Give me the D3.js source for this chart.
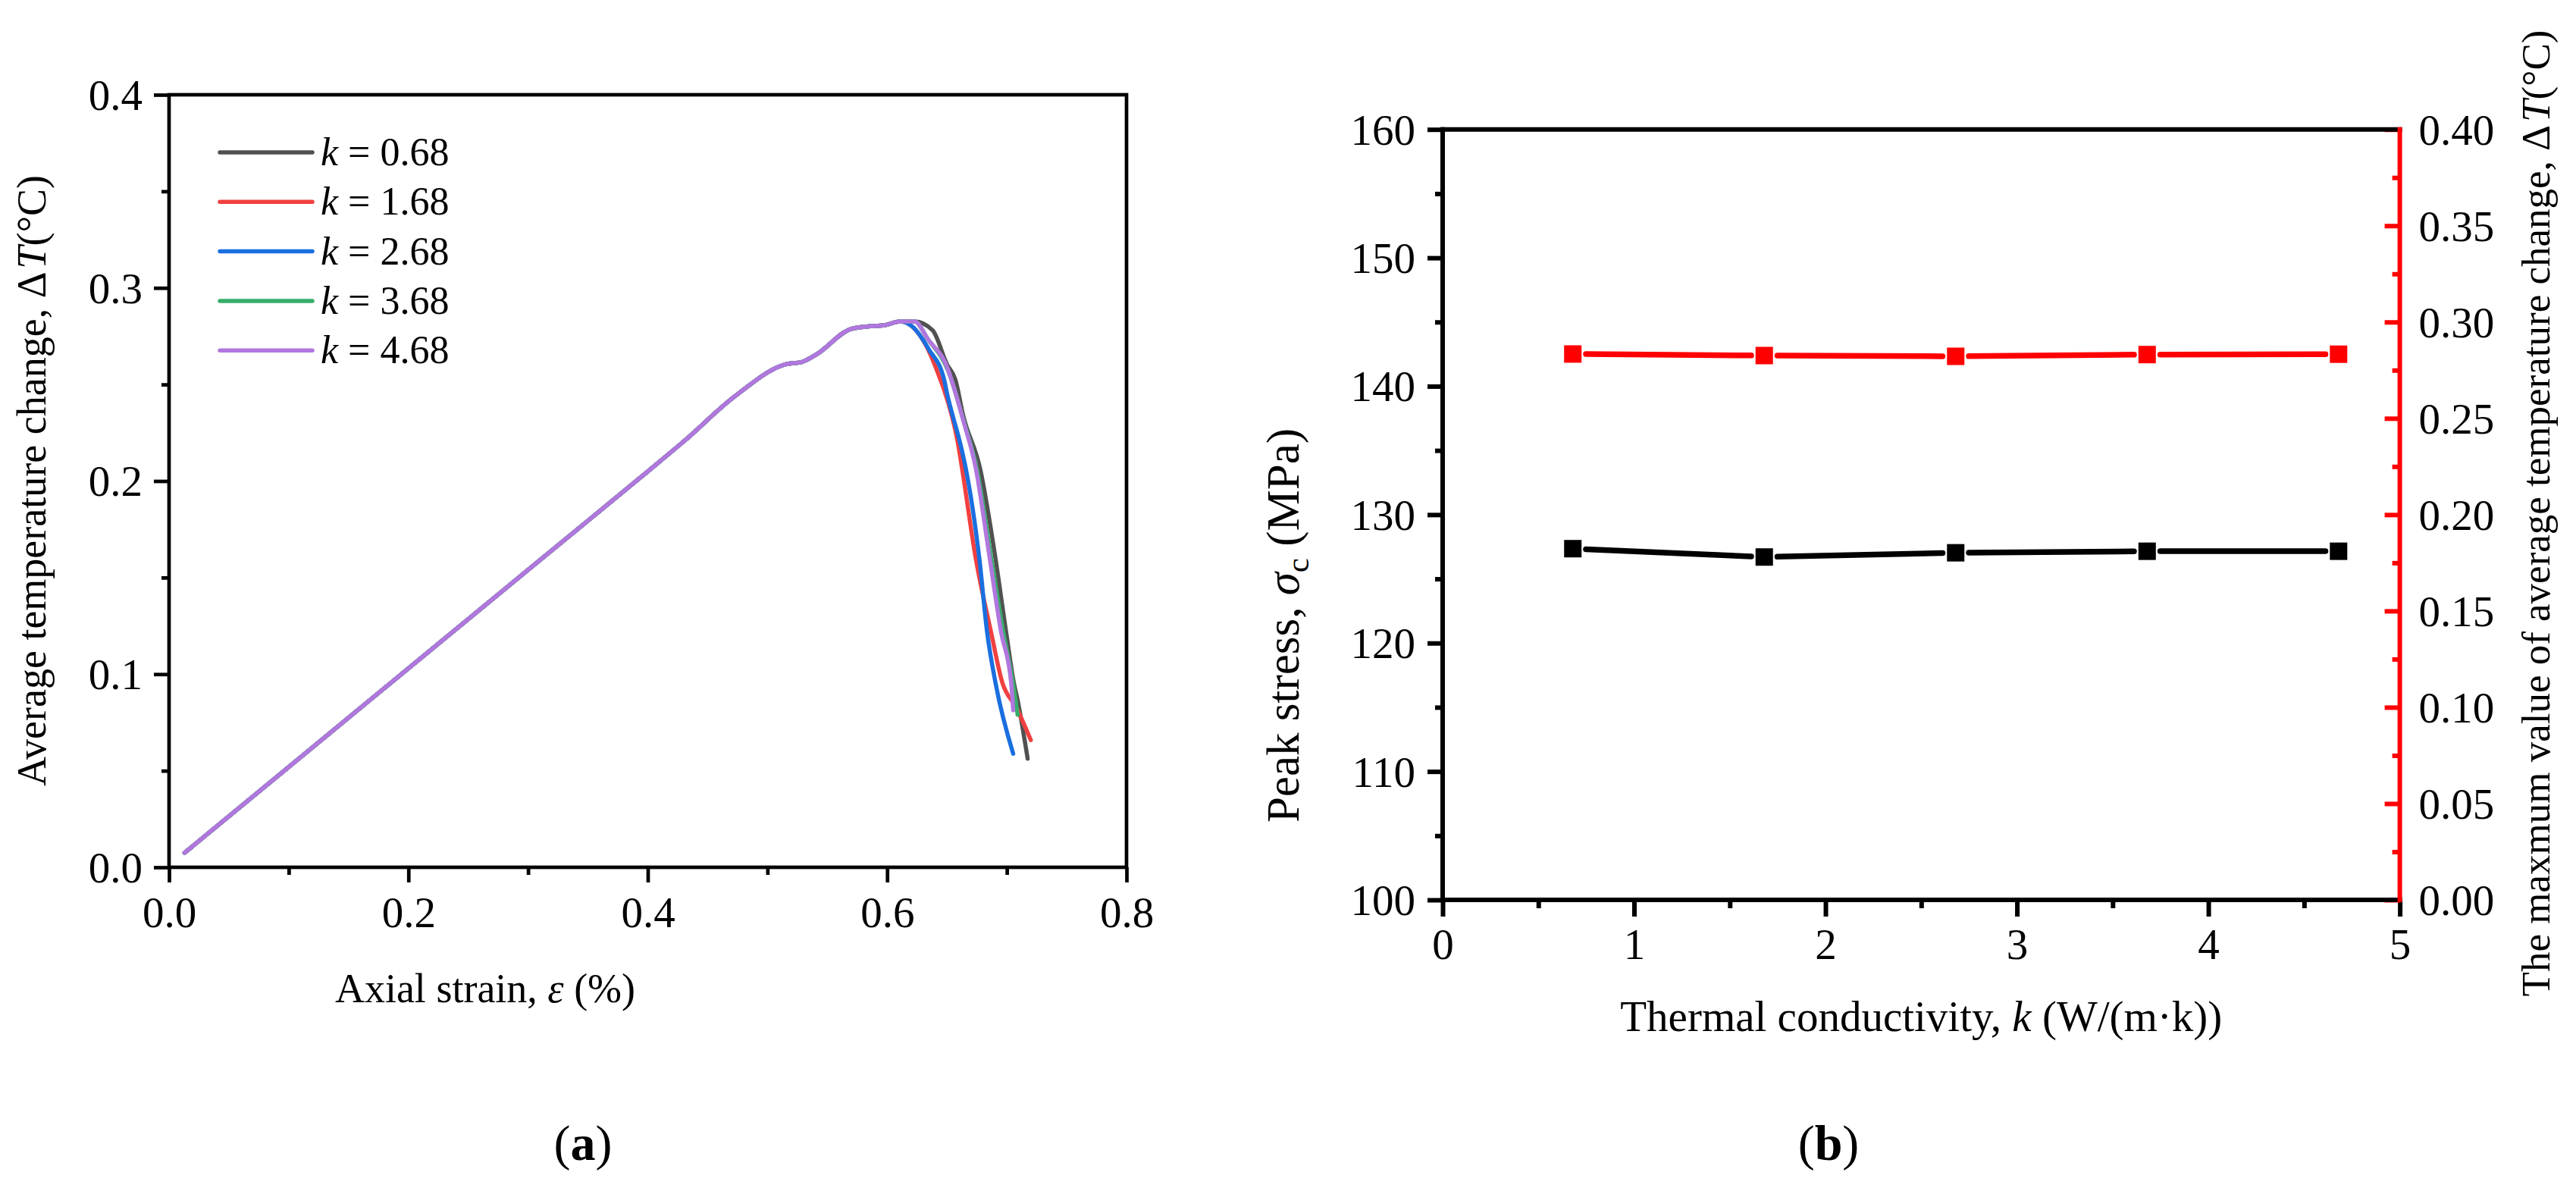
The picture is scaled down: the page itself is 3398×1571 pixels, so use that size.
<!DOCTYPE html>
<html>
<head>
<meta charset="utf-8">
<script src="https://cdn.jsdelivr.net/npm/d3@7"></script>
<style>
  body { margin: 0; background: #fff; }
  svg { display: block; }
</style>
</head>
<body>
<svg id="fig" width="3398" height="1571"></svg>
<script>
// ---- (a) temperature change vs axial strain ----
// shared rising branch (all five curves lie on top of each other here)
const riseBranch = [[0.013, 0.0075], [0.2, 0.103], [0.3, 0.154], [0.4, 0.205], [0.43, 0.2205],
  [0.473, 0.244], [0.515, 0.2604], [0.529, 0.2617], [0.541, 0.2656], [0.5695, 0.2787],
  [0.583, 0.280], [0.598, 0.2807], [0.611, 0.2826]];

// post-peak branches, one per k
const tail068 = [[0.623, 0.2826], [0.638, 0.278], [0.650, 0.2604], [0.657, 0.2525], [0.6635, 0.234],
  [0.678, 0.2055], [0.690, 0.162], [0.6994, 0.1218], [0.7058, 0.0957], [0.709, 0.0865], [0.7174, 0.0562]];
const tail168 = [[0.622, 0.2794], [0.633, 0.2696], [0.6445, 0.2525], [0.6477, 0.247], [0.659, 0.220],
  [0.6625, 0.2068], [0.674, 0.160], [0.6868, 0.1218], [0.6962, 0.0957], [0.708, 0.0826], [0.720, 0.0659]];
const tail268 = [[0.621, 0.280], [0.635, 0.268], [0.6476, 0.2525], [0.6498, 0.246], [0.6624, 0.216],
  [0.6656, 0.2068], [0.677, 0.160], [0.6835, 0.1218], [0.691, 0.094], [0.7053, 0.0588]];
const tail368 = [[0.623, 0.2826], [0.634, 0.2735], [0.651, 0.257], [0.664, 0.231], [0.675, 0.206],
  [0.687, 0.160], [0.697, 0.122], [0.705, 0.096], [0.709, 0.079]];
const tail468 = [[0.623, 0.2826], [0.634, 0.2735], [0.6508, 0.2578], [0.6537, 0.2525], [0.6635, 0.2316],
  [0.674, 0.2068], [0.6857, 0.160], [0.6952, 0.1218], [0.7036, 0.0957], [0.7053, 0.0813]];

const legendK = ["0.68", "1.68", "2.68", "3.68", "4.68"];
const curveColors = ["#515151", "#F14040", "#1A6FDF", "#37AD6B", "#B177DE"];
const curveTails = [tail068, tail168, tail268, tail368, tail468];

const strainTicks = [0, 0.2, 0.4, 0.6, 0.8];
const strainMinor = [0.1, 0.3, 0.5, 0.7];
const dtTicks = [0, 0.1, 0.2, 0.3, 0.4];
const dtMinor = [0.05, 0.15, 0.25, 0.35];

// ---- (b) peak stress & max temperature change vs k ----
const kValues = [0.68, 1.68, 2.68, 3.68, 4.68];
const peakStress = [127.35, 126.7, 127.03, 127.15, 127.15];
const maxDT = [0.2834, 0.2826, 0.2822, 0.2831, 0.2833];

const kTicks = [0, 1, 2, 3, 4, 5];
const kMinor = [0.5, 1.5, 2.5, 3.5, 4.5];
const stressTicks = [100, 110, 120, 130, 140, 150, 160];
const stressMinor = [105, 115, 125, 135, 145, 155];
const dt2Ticks = [0, 0.05, 0.10, 0.15, 0.20, 0.25, 0.30, 0.35, 0.40];
const dt2Minor = [0.025, 0.075, 0.125, 0.175, 0.225, 0.275, 0.325, 0.375];

const FONT = '"Liberation Serif", "Times New Roman", serif';
const svg = d3.select("#fig");

function styleAxis(g, lw, color, fs) {
  g.attr("font-family", null).attr("font-size", null);
  g.select(".domain").remove();
  g.selectAll(".tick line").attr("stroke", color).attr("stroke-width", lw);
  g.selectAll(".tick text").attr("fill", "#000").attr("font-family", FONT).attr("font-size", fs);
}

// ================= panel (a) =================
const xA = d3.scaleLinear().domain([0, 0.8]).range([223, 1486]);
const yA = d3.scaleLinear().domain([0, 0.4]).range([1144, 125]);
const lwA = 4.7;

const gA = svg.append("g");

const line = d3.line()
  .x(d => xA(d[0]))
  .y(d => yA(d[1]))
  .curve(d3.curveMonotoneX);

curveTails.forEach((tail, i) => {
  const startX = tail[0][0];
  const pts = riseBranch.filter(p => p[0] < startX).concat(tail);
  gA.append("path")
    .datum(pts)
    .attr("fill", "none")
    .attr("stroke", curveColors[i])
    .attr("stroke-width", 5.5)
    .attr("stroke-linejoin", "round")
    .attr("stroke-linecap", "round")
    .attr("d", line);
});

// axes
const axA_x = gA.append("g").attr("transform", `translate(0,${yA(0)})`)
  .call(d3.axisBottom(xA).tickValues(strainTicks).tickSize(20).tickSizeOuter(0).tickFormat(d3.format(".1f")));
styleAxis(axA_x, lwA, "#000", 57);
axA_x.selectAll(".tick text").attr("y", 79).attr("dy", null);
const axA_xm = gA.append("g").attr("transform", `translate(0,${yA(0)})`)
  .call(d3.axisBottom(xA).tickValues(strainMinor).tickSize(10).tickSizeOuter(0).tickFormat(""));
styleAxis(axA_xm, lwA, "#000", 57);

const axA_y = gA.append("g").attr("transform", `translate(${xA(0)},0)`)
  .call(d3.axisLeft(yA).tickValues(dtTicks).tickSize(20).tickPadding(15).tickSizeOuter(0).tickFormat(d3.format(".1f")));
styleAxis(axA_y, lwA, "#000", 57);
axA_y.selectAll(".tick text").attr("dy", "0.34em");
const axA_ym = gA.append("g").attr("transform", `translate(${xA(0)},0)`)
  .call(d3.axisLeft(yA).tickValues(dtMinor).tickSize(10).tickSizeOuter(0).tickFormat(""));
styleAxis(axA_ym, lwA, "#000", 57);

gA.append("rect")
  .attr("x", xA(0)).attr("y", yA(0.4))
  .attr("width", xA(0.8) - xA(0)).attr("height", yA(0) - yA(0.4))
  .attr("fill", "none").attr("stroke", "#000").attr("stroke-width", lwA);

// legend
legendK.forEach((k, i) => {
  const ly = 201 + i * 65.3;
  gA.append("line")
    .attr("x1", 290).attr("x2", 412).attr("y1", ly).attr("y2", ly)
    .attr("stroke", curveColors[i]).attr("stroke-width", 5.5).attr("stroke-linecap", "round");
  const t = gA.append("text").attr("x", 423).attr("y", ly + 17)
    .attr("font-family", FONT).attr("font-size", 52);
  t.append("tspan").attr("font-style", "italic").text("k");
  t.append("tspan").text(" = " + k);
});

// axis titles
const ylA = gA.append("text")
  .attr("transform", "translate(60,634) rotate(-90)")
  .attr("text-anchor", "middle").attr("font-family", FONT).attr("font-size", 54);
ylA.append("tspan").text("Average temperature change, Δ");
ylA.append("tspan").attr("font-style", "italic").attr("dx", 4).text("T");
ylA.append("tspan").text("(°C)");

const xlA = gA.append("text")
  .attr("x", 640).attr("y", 1322)
  .attr("text-anchor", "middle").attr("font-family", FONT).attr("font-size", 54);
xlA.append("tspan").text("Axial strain, ");
xlA.append("tspan").attr("font-style", "italic").text("ε");
xlA.append("tspan").text(" (%)");

const capA = gA.append("text").attr("x", 769).attr("y", 1530)
  .attr("text-anchor", "middle").attr("font-family", FONT).attr("font-size", 66);
capA.append("tspan").text("(");
capA.append("tspan").attr("font-weight", "bold").text("a");
capA.append("tspan").text(")");

// ================= panel (b) =================
const xB = d3.scaleLinear().domain([0, 5]).range([1903, 3165.6]);
const yB = d3.scaleLinear().domain([100, 160]).range([1187, 170.7]);
const yB2 = d3.scaleLinear().domain([0, 0.4]).range([1187, 170.7]);
const lwB = 6;
const RED = "#ff0000";

const gB = svg.append("g");

const axB_x = gB.append("g").attr("transform", `translate(0,${yB(100)})`)
  .call(d3.axisBottom(xB).tickValues(kTicks).tickSize(22).tickSizeOuter(0).tickFormat(d3.format("d")));
styleAxis(axB_x, lwB, "#000", 57);
axB_x.selectAll(".tick text").attr("y", 78).attr("dy", null);
const axB_xm = gB.append("g").attr("transform", `translate(0,${yB(100)})`)
  .call(d3.axisBottom(xB).tickValues(kMinor).tickSize(11).tickSizeOuter(0).tickFormat(""));
styleAxis(axB_xm, lwB, "#000", 57);

const axB_y = gB.append("g").attr("transform", `translate(${xB(0)},0)`)
  .call(d3.axisLeft(yB).tickValues(stressTicks).tickSize(20).tickPadding(16).tickSizeOuter(0).tickFormat(d3.format("d")));
styleAxis(axB_y, lwB, "#000", 57);
axB_y.selectAll(".tick text").attr("dy", "0.34em");
const axB_ym = gB.append("g").attr("transform", `translate(${xB(0)},0)`)
  .call(d3.axisLeft(yB).tickValues(stressMinor).tickSize(10).tickSizeOuter(0).tickFormat(""));
styleAxis(axB_ym, lwB, "#000", 57);

// right axis: ticks point inward
const axB_r = gB.append("g").attr("transform", `translate(${xB(5)},0)`)
  .call(d3.axisRight(yB2).tickValues(dt2Ticks).tickSize(-20).tickPadding(25).tickSizeOuter(0).tickFormat(d3.format(".2f")));
styleAxis(axB_r, lwB, RED, 57);
axB_r.selectAll(".tick text").attr("dy", "0.34em");
const axB_rm = gB.append("g").attr("transform", `translate(${xB(5)},0)`)
  .call(d3.axisRight(yB2).tickValues(dt2Minor).tickSize(-10).tickSizeOuter(0).tickFormat(""));
styleAxis(axB_rm, lwB, RED, 57);

// frame
gB.append("line").attr("x1", xB(0)).attr("x2", xB(5)).attr("y1", yB(160)).attr("y2", yB(160))
  .attr("stroke", "#000").attr("stroke-width", lwB).attr("stroke-linecap", "square");
gB.append("line").attr("x1", xB(0)).attr("x2", xB(5)).attr("y1", yB(100)).attr("y2", yB(100))
  .attr("stroke", "#000").attr("stroke-width", lwB).attr("stroke-linecap", "square");
gB.append("line").attr("x1", xB(0)).attr("x2", xB(0)).attr("y1", yB(160)).attr("y2", yB(100))
  .attr("stroke", "#000").attr("stroke-width", lwB).attr("stroke-linecap", "square");
gB.append("line").attr("x1", xB(5)).attr("x2", xB(5)).attr("y1", yB(160)).attr("y2", yB(100))
  .attr("stroke", RED).attr("stroke-width", lwB).attr("stroke-linecap", "square");

// connecting segments with a small gap at each marker, then square markers
const MK = 23, SEG_W = 7.5;
function drawSeries(vals, yScale, color) {
  const pts = kValues.map((k, i) => [xB(k), yScale(vals[i])]);
  for (let i = 0; i < pts.length - 1; i++) {
    const [x1, y1] = pts[i], [x2, y2] = pts[i + 1];
    const len = Math.hypot(x2 - x1, y2 - y1);
    const off = MK / 2 + 2 + SEG_W / 2;
    const ux = (x2 - x1) / len, uy = (y2 - y1) / len;
    gB.append("line")
      .attr("x1", x1 + ux * off).attr("y1", y1 + uy * off)
      .attr("x2", x2 - ux * off).attr("y2", y2 - uy * off)
      .attr("stroke", color).attr("stroke-width", SEG_W).attr("stroke-linecap", "round");
  }
  gB.selectAll(null).data(pts).enter().append("rect")
    .attr("x", d => d[0] - MK / 2).attr("y", d => d[1] - MK / 2)
    .attr("width", MK).attr("height", MK).attr("fill", color);
}
drawSeries(peakStress, yB, "#000");
drawSeries(maxDT, yB2, RED);

// titles
const xlB = gB.append("text")
  .attr("x", (xB(0) + xB(5)) / 2).attr("y", 1360)
  .attr("text-anchor", "middle").attr("font-family", FONT).attr("font-size", 57);
xlB.append("tspan").text("Thermal conductivity, ");
xlB.append("tspan").attr("font-style", "italic").text("k");
xlB.append("tspan").text(" (W/(m·k))");

const ylB = gB.append("text")
  .attr("transform", "translate(1713,825) rotate(-90)")
  .attr("text-anchor", "middle").attr("font-family", FONT).attr("font-size", 61);
ylB.append("tspan").text("Peak stress, ");
ylB.append("tspan").attr("font-style", "italic").text("σ");
ylB.append("tspan").attr("font-size", 43).attr("dy", 13).text("c");
ylB.append("tspan").attr("dy", -13).text(" (MPa)");

const yrB = gB.append("text")
  .attr("transform", "translate(3363,677) rotate(-90)")
  .attr("text-anchor", "middle").attr("font-family", FONT).attr("font-size", 53);
yrB.append("tspan").text("The maxmum value of average temperature change, Δ");
yrB.append("tspan").attr("font-style", "italic").attr("dx", 4).text("T");
yrB.append("tspan").text("(°C)");

const capB = gB.append("text").attr("x", 2412).attr("y", 1530)
  .attr("text-anchor", "middle").attr("font-family", FONT).attr("font-size", 66);
capB.append("tspan").text("(");
capB.append("tspan").attr("font-weight", "bold").text("b");
capB.append("tspan").text(")");
</script>
</body>
</html>
